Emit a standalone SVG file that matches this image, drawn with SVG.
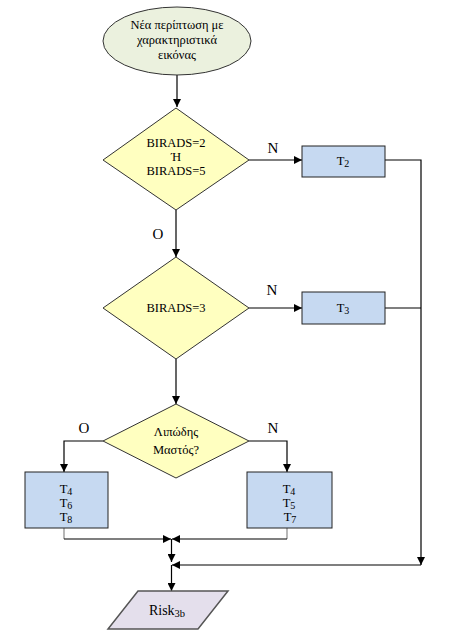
<svg xmlns="http://www.w3.org/2000/svg" width="453" height="643" viewBox="0 0 453 643">
<defs>
<marker id="ah" viewBox="0 0 10 10" refX="10" refY="5" markerWidth="8" markerHeight="8" markerUnits="userSpaceOnUse" orient="auto">
<path d="M0,0 L10,5 L0,10 z" fill="#000"/>
</marker>
</defs>
<style>
text{font-family:"Liberation Serif","Times New Roman",serif;font-size:12.5px;fill:#000;text-anchor:middle}
.lbl{font-size:15px}
.sub{font-size:10px}
.dia{fill:#ffffc0;stroke:#333;stroke-width:1}
.box{fill:#c6d9f1;stroke:#222;stroke-width:1}
.c{fill:none;stroke:#000;stroke-width:1.2}
.g{fill:none;stroke:#888;stroke-width:1.2}
</style>
<rect width="453" height="643" fill="#fff"/>

<g id="connectors">
<path class="c" d="M177,75 V107" marker-end="url(#ah)"/>
<path class="c" d="M249,160 H302" marker-end="url(#ah)"/>
<path class="c" d="M385,160 H421 V565" marker-end="url(#ah)"/>
<path class="c" d="M176,210 V257" marker-end="url(#ah)"/>
<path class="c" d="M249,308 H302" marker-end="url(#ah)"/>
<path class="c" d="M385,308 H421"/>
<path class="c" d="M176,359 V404" marker-end="url(#ah)"/>
<path class="c" d="M103,441 H64 V472" marker-end="url(#ah)"/>
<path class="c" d="M249,441 H287 V472" marker-end="url(#ah)"/>
<path class="g" d="M64,528 V539"/>
<path class="c" d="M64,539 H171" marker-end="url(#ah)"/>
<path class="g" d="M287,528 V539"/>
<path class="c" d="M287,539 H172" marker-end="url(#ah)"/>
<path class="c" d="M171.5,539 V562" marker-end="url(#ah)"/>
<path class="c" d="M421,565 H172" marker-end="url(#ah)"/>
<path class="c" d="M171.5,565 V591" marker-end="url(#ah)"/>
<text class="lbl" x="273" y="153">N</text>
<text class="lbl" x="158" y="239">O</text>
<text class="lbl" x="272" y="295">N</text>
<text class="lbl" x="84" y="433">O</text>
<text class="lbl" x="273" y="433">N</text>
</g>

<g id="start">
<ellipse cx="177" cy="41" rx="74" ry="34" fill="#ebf1de" stroke="#333" stroke-width="1"/>
<text x="177" y="29">Νέα περίπτωση με</text>
<text x="177" y="44">χαρακτηριστικά</text>
<text x="177" y="59">εικόνας</text>
</g>

<g id="d1">
<polygon class="dia" points="176,108 249,160 176,210 103,160"/>
<text x="176" y="147">BIRADS=2</text>
<text x="176" y="161">Ή</text>
<text x="176" y="175">BIRADS=5</text>
</g>

<g id="t2">
<rect class="box" x="302" y="146" width="83" height="31"/>
<text x="343" y="165">T<tspan class="sub" dy="1.5">2</tspan></text>
</g>

<g id="d2">
<polygon class="dia" points="176,257 249,308 176,359 103,308"/>
<text x="176" y="312">BIRADS=3</text>
</g>

<g id="t3">
<rect class="box" x="302" y="292" width="83" height="32"/>
<text x="343" y="312">T<tspan class="sub" dy="1.5">3</tspan></text>
</g>

<g id="d3">
<polygon class="dia" points="176,404 249,441 176,478 103,441"/>
<text x="176" y="436">Λιπώδης</text>
<text x="176" y="454">Μαστός?</text>
</g>

<g id="left">
<rect class="box" x="25" y="472" width="83" height="56"/>
<text x="66" y="493">T<tspan class="sub" dy="1.5">4</tspan></text>
<text x="66" y="507">T<tspan class="sub" dy="1.5">6</tspan></text>
<text x="66" y="521">T<tspan class="sub" dy="1.5">8</tspan></text>
</g>

<g id="right">
<rect class="box" x="247" y="472" width="85" height="56"/>
<text x="289" y="493">T<tspan class="sub" dy="1.5">4</tspan></text>
<text x="289" y="507">T<tspan class="sub" dy="1.5">5</tspan></text>
<text x="290" y="521">T<tspan class="sub" dy="1.5">7</tspan></text>
</g>

<g id="risk">
<polygon points="138,591 228,591 198,629 108,629" fill="#e4dfec" stroke="#555" stroke-width="1.5"/>
<text x="167" y="615" style="font-size:14px">Risk<tspan class="sub" style="font-size:10.5px" dy="1.5">3b</tspan></text>
</g>
</svg>
